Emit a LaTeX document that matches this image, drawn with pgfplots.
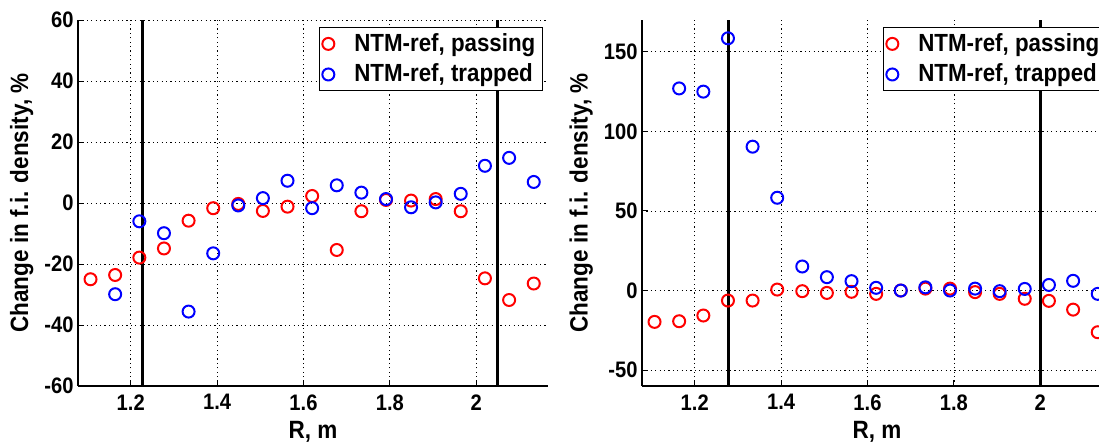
\documentclass[border=0pt]{standalone}
\usepackage{pgfplots}
\pgfplotsset{compat=1.18}
\usepackage{pgfplotstable}
\usepackage{fontspec}
\setmainfont{Liberation Sans}
% the original text is a little taller than it is wide
\newfontfamily\narrowfamily[FakeStretch=0.9]{Liberation Sans}

\newcommand{\tickfont}{\narrowfamily\fontsize{11.2}{13}\selectfont\bfseries}
\newcommand{\legfont}{\narrowfamily\fontsize{12.4}{14}\selectfont\bfseries}
\newcommand{\labfont}{\narrowfamily\fontsize{12.5}{14}\selectfont\bfseries}

% R positions shared by both panels; nan = no point drawn
\pgfplotstableread{
x      pass   trap
1.107  -25.0  nan
1.164  -23.6  -29.9
1.220  -17.9  -6.0
1.277  -14.9  -9.9
1.334  -5.8   -35.6
1.391  -1.7   -16.5
1.449  -0.3   -0.8
1.506  -2.6   1.6
1.563  -1.2   7.3
1.620  2.3    -1.7
1.677  -15.4  5.8
1.734  -2.7   3.4
1.791  1.0    1.3
1.849  0.8    -1.4
1.906  1.3    0.2
1.964  -2.7   3.0
2.020  -24.7  12.2
2.076  -31.8  14.8
2.133  -26.4  6.9
}\leftdata

\pgfplotstableread{
x      pass   trap
1.107  -19.7  nan
1.164  -19.3  127.0
1.220  -15.7  125.0
1.277  -6.3   158.5
1.334  -6.3   90.4
1.391  0.6    58.3
1.449  -0.4   15.1
1.506  -1.5   8.4
1.563  -0.8   5.9
1.620  -2.1   1.7
1.677  0.0    0.0
1.734  1.2    2.0
1.791  1.2    0.0
1.849  -1.0   1.2
1.906  -2.1   -0.4
1.964  -5.2   1.0
2.020  -6.5   3.5
2.076  -12.0  6.1
2.133  -26.2  -2.1
}\rightdata

\pgfplotsset{
  fiplot/.style={
    scale only axis, width=235pt, height=183pt, anchor=south west,
    xmin=1.078, xmax=2.166,
    xtick={1.2,1.4,1.6,1.8,2},
    axis x line*=bottom, axis y line*=left,
    axis line style={-, line width=0.6pt},
    grid=major,
    major grid style={black, line width=0.4pt, dash pattern=on 0.6pt off 1.6pt},
    tick align=inside, major tick length=3pt,
    tick style={black, line width=0.5pt},
    /pgf/number format/assume math mode=true,
    tick label style={font=\tickfont, inner sep=2pt},
    xticklabel style={yshift=-2pt},
    label style={font=\labfont},
    xlabel={R, m},
    ylabel={Change in f.i. density, \%},
    legend style={font=\legfont, at={(1,1)}, anchor=north east,
      xshift=-2.5pt, yshift=-3.5pt, draw=black, line width=0.6pt,
      inner xsep=0.5pt, inner ysep=0.5pt, row sep=0pt,
      nodes={inner ysep=2.4pt, inner xsep=3pt},
      cells={anchor=west}},
    legend image code/.code={%
      \draw[##1] plot coordinates {(0pt,0pt)};
      \path (-3.5pt,0pt) (9.5pt,0pt);},
  },
  pass/.style={only marks, mark=o, red, mark size=3pt, line width=1pt},
  trap/.style={only marks, mark=o, blue, mark size=3pt, line width=1pt},
  vline/.style={black, line width=1.5pt, mark=none, forget plot},
}

\begin{document}
\begin{tikzpicture}
\begin{scope}
\clip (0,0) rectangle (549.5pt,220.5pt);

\begin{axis}[fiplot, at={(39pt,27.5pt)},
  ymin=-60, ymax=60, ytick={-60,-40,-20,0,20,40,60}]
\addplot[pass] table[x=x, y=pass] {\leftdata};
\addlegendentry{NTM-ref, passing}
\addplot[trap] table[x=x, y=trap] {\leftdata};
\addlegendentry{NTM-ref, trapped}
\addplot[vline] coordinates {(1.228,-60) (1.228,60)};
\addplot[vline] coordinates {(2.05,-60) (2.05,60)};
\end{axis}

\begin{axis}[fiplot, at={(321pt,27.5pt)},
  ymin=-60, ymax=170, ytick={-50,0,50,100,150}]
\addplot[pass] table[x=x, y=pass] {\rightdata};
\addlegendentry{NTM-ref, passing}
\addplot[trap] table[x=x, y=trap] {\rightdata};
\addlegendentry{NTM-ref, trapped}
\addplot[vline] coordinates {(1.278,-60) (1.278,170)};
\addplot[vline] coordinates {(2.0,-60) (2.0,170)};
\end{axis}

\end{scope}
\pgfresetboundingbox
\useasboundingbox (0,0) rectangle (549.5pt,220.5pt);
\end{tikzpicture}
\end{document}
